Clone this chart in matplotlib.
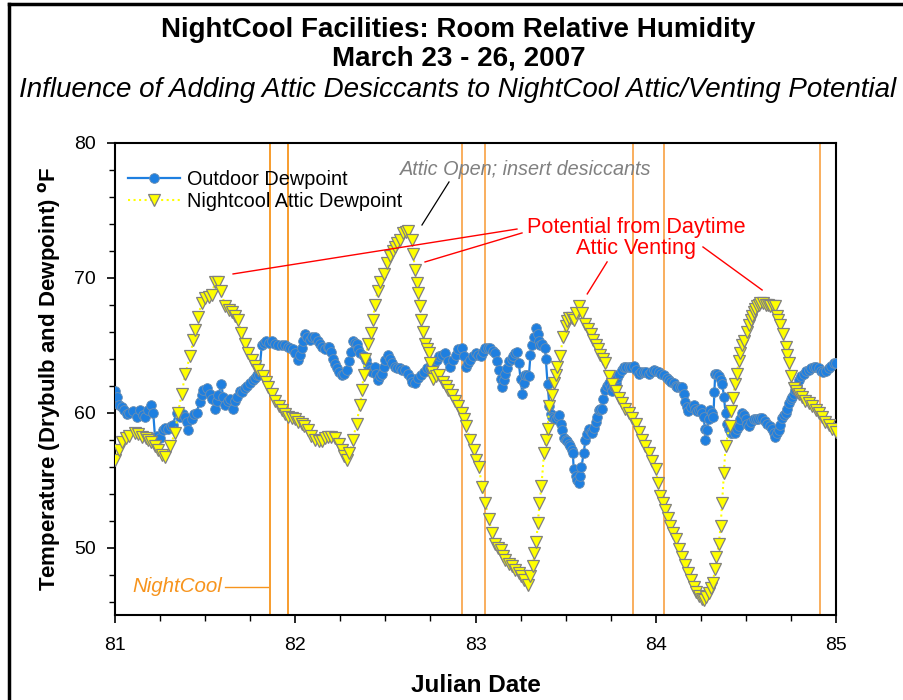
import matplotlib
matplotlib.use("Agg")
import matplotlib.pyplot as plt
from matplotlib.lines import Line2D
from matplotlib.ticker import MultipleLocator

plt.rcParams['font.family'] = ['Liberation Sans', 'DejaVu Sans']

# ---------------- data ----------------
outdoor_x = [81.00, 81.01, 81.02, 81.037, 81.05, 81.065, 81.08, 81.10, 81.12, 81.14, 81.155, 81.166,
             81.185, 81.20, 81.212, 81.222, 81.235, 81.25, 81.268, 81.28, 81.296, 81.31, 81.32, 81.342,
             81.36, 81.375, 81.39, 81.40, 81.407, 81.425, 81.44, 81.453, 81.47, 81.48, 81.49, 81.51,
             81.525, 81.536, 81.555, 81.565, 81.573, 81.59, 81.60, 81.61, 81.625, 81.638, 81.656, 81.665,
             81.675, 81.693, 81.705, 81.72, 81.735, 81.75, 81.765, 81.777, 81.79, 81.80, 81.814, 81.825,
             81.84, 81.855, 81.87, 81.89, 81.906, 81.925, 81.943, 81.96, 81.97, 81.985, 82.00, 82.017,
             82.025, 82.036, 82.045, 82.054, 82.065, 82.08, 82.095, 82.11, 82.125, 82.137, 82.15, 82.165,
             82.18, 82.19, 82.20, 82.21, 82.22, 82.23, 82.245, 82.257, 82.27, 82.285, 82.30, 82.31,
             82.32, 82.33, 82.34, 82.35, 82.36, 82.38, 82.39, 82.405, 82.415, 82.424, 82.44, 82.45,
             82.46, 82.47, 82.48, 82.49, 82.50, 82.516, 82.525, 82.535, 82.553, 82.565, 82.58, 82.595,
             82.61, 82.627, 82.64, 82.646, 82.664, 82.683, 82.70, 82.715, 82.73, 82.745, 82.757, 82.77,
             82.785, 82.80, 82.815, 82.83, 82.845, 82.86, 82.877, 82.89, 82.905, 82.923, 82.935, 82.945,
             82.96, 82.97, 82.985, 83.00, 83.015, 83.028, 83.04, 83.055, 83.07, 83.083, 83.097, 83.11,
             83.12, 83.13, 83.14, 83.148, 83.157, 83.166, 83.175, 83.185, 83.20, 83.21, 83.22, 83.23,
             83.24, 83.25, 83.26, 83.27, 83.277, 83.287, 83.296, 83.305, 83.315, 83.324, 83.337, 83.345,
             83.35, 83.36, 83.37, 83.385, 83.39, 83.40, 83.41, 83.418, 83.425, 83.435, 83.444, 83.455,
             83.465, 83.475, 83.48, 83.49, 83.50, 83.51, 83.52, 83.527, 83.535, 83.54, 83.545, 83.555,
             83.565, 83.573, 83.58, 83.588, 83.60, 83.61, 83.62, 83.63, 83.64, 83.647, 83.656, 83.666,
             83.675, 83.684, 83.693, 83.70, 83.71, 83.72, 83.73, 83.74, 83.75, 83.76, 83.77, 83.777,
             83.785, 83.795, 83.81, 83.823, 83.835, 83.85, 83.865, 83.878, 83.89, 83.906, 83.92, 83.934,
             83.947, 83.96, 83.975, 83.99, 84.003, 84.017, 84.03, 84.045, 84.06, 84.073, 84.087, 84.10,
             84.11, 84.12, 84.135, 84.147, 84.155, 84.165, 84.175, 84.18, 84.195, 84.21, 84.22, 84.23,
             84.24, 84.25, 84.258, 84.267, 84.272, 84.276, 84.285, 84.293, 84.30, 84.31, 84.32, 84.325,
             84.33, 84.34, 84.35, 84.36, 84.37, 84.378, 84.387, 84.396, 84.405, 84.415, 84.425, 84.44,
             84.45, 84.46, 84.47, 84.48, 84.49, 84.50, 84.508, 84.516, 84.53, 84.544, 84.557, 84.57,
             84.58, 84.59, 84.605, 84.618, 84.632, 84.646, 84.655, 84.664, 84.673, 84.683, 84.69, 84.70,
             84.71, 84.72, 84.73, 84.74, 84.75, 84.757, 84.766, 84.775, 84.785, 84.794, 84.807, 84.82,
             84.835, 84.85, 84.863, 84.877, 84.89, 84.905, 84.917, 84.93, 84.945, 84.96, 84.975, 84.99,
             85.00]
outdoor_dp = [61.6, 61.2, 60.6, 60.4, 60.2, 59.9, 60.0, 60.1, 59.7, 60.2, 59.8, 59.7,
              60.2, 60.6, 60.0, 58.2, 58.3, 58.1, 58.7, 58.9, 58.8, 59.0, 59.1, 60.0,
              59.7, 59.9, 59.7, 59.3, 58.7, 59.5, 59.9, 60.0, 60.8, 61.3, 61.7, 61.8,
              61.4, 61.0, 60.3, 60.9, 61.3, 62.1, 61.2, 60.6, 60.9, 61.0, 60.3, 60.9,
              61.2, 61.6, 61.5, 61.8, 62.0, 62.2, 62.4, 62.6, 62.8, 62.8, 65.0, 65.2,
              65.3, 65.2, 65.3, 65.1, 65.0, 65.0, 65.0, 64.9, 64.8, 64.7, 64.4, 63.9,
              64.3, 64.8, 65.3, 65.8, 65.6, 65.4, 65.6, 65.6, 65.3, 65.1, 64.9, 64.7,
              64.9, 64.9, 64.5, 64.0, 63.6, 63.3, 63.0, 62.8, 62.9, 63.2, 63.8, 64.5,
              65.3, 65.2, 65.1, 64.7, 64.4, 64.2, 63.9, 63.5, 63.2, 63.0, 63.4, 62.9,
              62.4, 62.7, 62.9, 63.4, 63.9, 64.3, 64.0, 63.7, 63.4, 63.3, 63.3, 63.2,
              63.2, 62.9, 62.6, 62.3, 62.2, 62.6, 62.8, 63.0, 63.3, 63.3, 63.3, 63.6,
              63.9, 64.2, 64.3, 64.4, 63.8, 63.4, 63.9, 64.3, 64.7, 64.8, 64.2, 63.4,
              63.7, 63.9, 64.2, 64.4, 64.3, 64.2, 64.5, 64.8, 64.8, 64.8, 64.6, 64.4,
              63.8, 63.2, 62.5, 61.9, 62.4, 62.9, 63.3, 63.8, 64.0, 64.2, 64.4, 64.5,
              63.7, 62.5, 61.4, 62.2, 62.8, 62.8, 62.7, 64.3, 65.0, 65.6, 66.3, 65.8,
              65.3, 65.0, 65.1, 64.8, 64.0, 62.1, 60.5, 59.9, 59.7, 59.6, 59.5, 59.7,
              59.8, 59.2, 58.7, 58.1, 58.0, 57.9, 57.7, 57.5, 57.2, 57.0, 55.8, 55.3,
              55.0, 54.8, 55.3, 56.0, 57.0, 58.0, 58.4, 58.8, 58.6, 58.5, 58.9, 59.3,
              59.7, 60.2, 60.3, 60.3, 61.0, 61.7, 62.0, 62.2, 61.9, 61.6, 61.9, 62.2,
              62.6, 62.9, 63.2, 63.4, 63.4, 63.4, 63.4, 63.5, 63.2, 62.9, 63.0, 63.0,
              63.0, 62.9, 63.0, 63.2, 63.1, 63.0, 62.9, 62.8, 62.6, 62.4, 62.3, 62.2,
              62.0, 61.9, 61.9, 61.9, 61.4, 60.8, 60.4, 60.1, 60.4, 60.6, 60.3, 60.1,
              60.2, 60.3, 60.0, 59.7, 58.8, 58.0, 58.7, 59.5, 60.2, 60.0, 59.7, 61.5,
              62.9, 62.9, 62.7, 62.4, 62.1, 61.2, 60.0, 59.2, 58.8, 58.5, 58.5, 58.5,
              58.8, 59.0, 59.5, 60.0, 59.8, 59.5, 59.2, 59.0, 59.3, 59.5, 59.5, 59.5,
              59.6, 59.6, 59.4, 59.2, 59.0, 58.8, 58.5, 58.2, 58.5, 58.7, 59.1, 59.6,
              59.8, 60.0, 60.3, 60.7, 61.0, 61.2, 61.4, 61.7, 62.0, 62.4, 62.7, 62.9,
              63.1, 63.2, 63.3, 63.4, 63.4, 63.3, 63.1, 63.0, 63.1, 63.3, 63.5, 63.7,
              63.7]

attic_x = [81.00, 81.02, 81.04, 81.06, 81.08, 81.11, 81.13, 81.15, 81.17, 81.185, 81.20, 81.22,
           81.24, 81.26, 81.28, 81.305, 81.333, 81.35, 81.37, 81.39, 81.416, 81.435, 81.444, 81.46,
           81.48, 81.50, 81.52, 81.536, 81.555, 81.573, 81.59, 81.61, 81.63, 81.647, 81.665, 81.684,
           81.70, 81.72, 81.74, 81.758, 81.777, 81.795, 81.82, 81.835, 81.85, 81.87, 81.89, 81.91,
           81.925, 81.945, 81.96, 81.98, 82.00, 82.018, 82.035, 82.05, 82.07, 82.09, 82.11, 82.13,
           82.147, 82.165, 82.18, 82.20, 82.22, 82.24, 82.257, 82.27, 82.285, 82.30, 82.32, 82.34,
           82.36, 82.37, 82.38, 82.387, 82.405, 82.42, 82.433, 82.44, 82.457, 82.47, 82.49, 82.507,
           82.525, 82.54, 82.553, 82.567, 82.58, 82.60, 82.615, 82.627, 82.646, 82.655, 82.664, 82.673,
           82.683, 82.69, 82.70, 82.71, 82.72, 82.73, 82.74, 82.747, 82.757, 82.766, 82.78, 82.80,
           82.82, 82.835, 82.85, 82.868, 82.886, 82.905, 82.923, 82.937, 82.95, 82.97, 82.99, 83.005,
           83.018, 83.037, 83.055, 83.074, 83.092, 83.11, 83.125, 83.139, 83.152, 83.166, 83.185, 83.20,
           83.22, 83.24, 83.255, 83.27, 83.29, 83.305, 83.318, 83.327, 83.337, 83.346, 83.355, 83.366,
           83.38, 83.39, 83.40, 83.41, 83.425, 83.435, 83.444, 83.453, 83.47, 83.485, 83.50, 83.51,
           83.52, 83.535, 83.545, 83.56, 83.573, 83.59, 83.61, 83.625, 83.64, 83.653, 83.666, 83.68,
           83.693, 83.706, 83.72, 83.74, 83.758, 83.777, 83.795, 83.814, 83.832, 83.85, 83.87, 83.888,
           83.906, 83.925, 83.943, 83.96, 83.98, 84.00, 84.013, 84.026, 84.04, 84.054, 84.067, 84.08,
           84.095, 84.11, 84.128, 84.147, 84.165, 84.18, 84.195, 84.21, 84.225, 84.24, 84.255, 84.267,
           84.28, 84.294, 84.306, 84.317, 84.328, 84.337, 84.35, 84.36, 84.368, 84.378, 84.387, 84.41,
           84.42, 84.428, 84.44, 84.45, 84.46, 84.47, 84.48, 84.49, 84.507, 84.517, 84.526, 84.535,
           84.544, 84.553, 84.563, 84.572, 84.58, 84.595, 84.61, 84.623, 84.636, 84.65, 84.664, 84.67,
           84.68, 84.69, 84.705, 84.72, 84.73, 84.74, 84.75, 84.766, 84.78, 84.794, 84.81, 84.83,
           84.85, 84.868, 84.887, 84.905, 84.92, 84.94, 84.96, 84.98, 85.00]
attic_dp = [56.5, 57.2, 57.8, 58.1, 58.3, 58.5, 58.4, 58.2, 58.1, 58.0, 57.8, 57.5,
            57.2, 56.9, 56.7, 57.5, 58.5, 60.0, 61.4, 62.9, 64.2, 65.4, 66.1, 67.1,
            68.1, 68.5, 68.6, 68.7, 69.7, 69.7, 69.0, 67.9, 67.6, 67.5, 67.2, 66.9,
            65.9, 65.1, 64.4, 63.9, 63.5, 63.2, 62.7, 62.3, 61.9, 61.4, 60.9, 60.5,
            60.2, 59.9, 59.7, 59.6, 59.5, 59.3, 59.2, 59.0, 58.7, 58.3, 58.0, 57.9,
            57.9, 58.1, 58.2, 58.2, 58.1, 57.7, 57.2, 56.8, 56.5, 57.0, 58.0, 59.2,
            60.6, 61.7, 62.8, 64.0, 65.1, 65.9, 66.9, 68.0, 69.0, 69.7, 70.3, 71.1,
            71.6, 72.0, 72.3, 72.6, 72.8, 73.3, 73.4, 73.5, 72.8, 71.8, 70.6, 69.6,
            68.9, 67.9, 66.9, 66.0, 65.1, 64.7, 64.4, 63.7, 63.0, 62.5, 62.7, 62.8,
            62.3, 62.0, 61.7, 61.3, 60.9, 60.5, 60.0, 59.5, 59.0, 58.0, 57.2, 56.5,
            56.0, 54.5, 53.3, 52.1, 51.1, 50.3, 50.0, 49.8, 49.4, 49.1, 48.8, 48.6,
            48.3, 48.1, 47.9, 47.6, 47.2, 47.9, 48.6, 49.6, 50.4, 51.8, 53.3, 54.6,
            57.0, 58.0, 58.8, 60.5, 61.3, 62.2, 62.8, 63.4, 64.2, 65.6, 66.4, 66.8,
            67.0, 67.0, 66.9, 67.4, 67.9, 67.4, 66.6, 66.2, 65.8, 65.4, 65.0, 64.7,
            64.3, 64.0, 63.7, 62.7, 62.1, 61.6, 61.1, 60.7, 60.3, 60.0, 59.6, 59.2,
            58.6, 58.0, 57.5, 57.0, 56.4, 55.8, 54.8, 53.8, 53.3, 52.8, 52.2, 51.6,
            51.1, 50.6, 49.9, 49.3, 48.7, 48.1, 47.6, 47.1, 46.7, 46.4, 46.2, 46.1,
            46.3, 46.6, 47.0, 47.4, 48.4, 49.3, 50.3, 51.6, 53.3, 55.5, 57.5, 59.0,
            60.1, 61.1, 62.1, 62.9, 63.8, 64.4, 65.0, 65.3, 66.0, 66.5, 66.9, 67.2,
            67.5, 67.7, 67.9, 68.0, 68.1, 68.1, 68.0, 68.0, 67.9, 67.9, 67.9, 67.2,
            66.9, 66.5, 65.8, 64.9, 64.3, 63.7, 62.7, 61.8, 61.6, 61.4, 61.2, 60.9,
            60.7, 60.5, 60.2, 60.0, 59.7, 59.3, 59.1, 58.8, 58.6]

nightcool_events = [81.86, 81.96, 82.925, 83.05, 83.875, 84.045, 84.91]

x_ticks = [81, 82, 83, 84, 85]
y_ticks = [50, 60, 70, 80]

# ---------------- figure ----------------
fig = plt.figure(figsize=(9.04, 7.0), dpi=100)
ax = fig.add_axes([115/904, 1 - 615/700, (836 - 115)/904, (615 - 143)/700])

for i, ev in enumerate(nightcool_events):
    ax.axvline(ev, color='#F7941D' if i < 2 else '#F9A850', lw=1.3, zorder=1)

ax.plot(outdoor_x, outdoor_dp, '-', color='#1E7FE0', lw=1.6, marker='o', ms=7,
        mfc='#1E7FE0', mec='#6E8FB0', mew=0.6, zorder=3, label='Outdoor Dewpoint')
ax.plot(attic_x, attic_dp, ':', color='#FFFF00', lw=1.5, marker='v', ms=8,
        mfc='#FFFF00', mec='#808080', mew=0.9, zorder=4, label='Nightcool Attic Dewpoint')

ax.set_xlim(81, 85)
ax.set_ylim(45, 80)
ax.set_xticks(x_ticks)
ax.set_yticks(y_ticks)
ax.xaxis.set_minor_locator(MultipleLocator(0.25))
ax.yaxis.set_minor_locator(MultipleLocator(2))
ax.tick_params(which='major', direction='out', length=6, width=1.2, labelsize=14,
               colors='black', top=False, right=False)
ax.tick_params(which='minor', direction='out', length=4, width=1.0, top=False, right=False)
ax.tick_params(axis='x', pad=10)
ax.tick_params(axis='y', pad=8)
for sp in ax.spines.values():
    sp.set_linewidth(1.5)

ax.set_xlabel('Julian Date', fontsize=17.5, fontweight='bold', labelpad=14)
ax.set_ylabel(r'Temperature (Drybulb and Dewpoint) $^{\mathbf{o}}$F', fontsize=16,
              fontweight='bold', labelpad=8)

leg = ax.legend(loc='upper left', bbox_to_anchor=(0.018, 0.942), frameon=False,
                fontsize=14.3, handlelength=2.6, handletextpad=0.35, labelspacing=0.15,
                borderpad=0, borderaxespad=0)

# annotations
ax.text(83.28, 78.0, 'Attic Open; insert desiccants', color='#808080', fontsize=14.3,
        style='italic', ha='center', va='center')
ax.plot([82.853, 82.703], [77.11, 73.92], color='black', lw=0.9, zorder=5)

ax.text(83.89, 72.95, 'Potential from Daytime\nAttic Venting', color='#FF0000', fontsize=15.6,
        ha='center', va='center', linespacing=1.0)
ax.plot([83.23, 81.655], [73.62, 70.29], color='#FF0000', lw=1.0, zorder=5)
ax.plot([83.258, 82.72], [73.33, 71.18], color='#FF0000', lw=1.0, zorder=5)
ax.plot([83.73, 83.62], [71.18, 68.81], color='#FF0000', lw=1.0, zorder=5)
ax.plot([84.262, 84.59], [72.29, 69.10], color='#FF0000', lw=1.0, zorder=5)

ax.text(81.594, 47.15, 'NightCool', color='#F7941D', fontsize=14.8, style='italic',
        ha='right', va='center')
ax.plot([81.61, 81.849], [47.09, 47.09], color='#F7941D', lw=1.0, zorder=5)

# titles
fig.text(0.507, 1 - 30/700, 'NightCool Facilities: Room Relative Humidity', ha='center',
         va='center', fontsize=20, fontweight='bold')
fig.text(0.507, 1 - 59/700, 'March 23 - 26, 2007', ha='center', va='center',
         fontsize=20, fontweight='bold')
fig.text(0.506, 1 - 90/700, 'Influence of Adding Attic Desiccants to NightCool Attic/Venting Potential',
         ha='center', va='center', fontsize=20, style='italic')

# outer frame (left and top)
fig.add_artist(Line2D([9/904, 9/904], [0, 1 - 4/700], color='black', lw=2.5,
                      transform=fig.transFigure))
fig.add_artist(Line2D([9/904, 1], [1 - 4/700, 1 - 4/700], color='black', lw=2.5,
                      transform=fig.transFigure))

fig.savefig('out.png', dpi=100)
